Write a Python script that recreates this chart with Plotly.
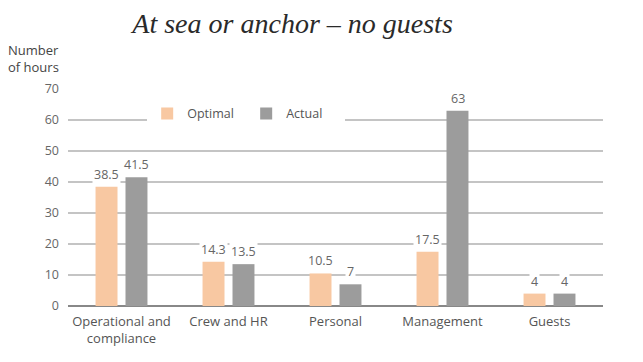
import plotly.graph_objects as go

categories = ["Operational and<br>compliance", "Crew and HR", "Personal", "Management", "Guests"]
optimal = [38.5, 14.3, 10.5, 17.5, 4]
actual = [41.5, 13.5, 7, 63, 4]
optimal_labels = ["38.5", "14.3", "10.5", "17.5", "4"]
actual_labels = ["41.5", "13.5", "7", "63", "4"]
y_ticks = [0, 10, 20, 30, 40, 50, 60, 70]

FONT = "'Open Sans', Lato, sans-serif"
C_OPT = "#F8C8A2"
C_ACT = "#9C9C9C"

fig = go.Figure()
fig.add_trace(go.Bar(x=categories, y=optimal, name="Optimal", marker_color=C_OPT,
                     marker_line_width=0))
fig.add_trace(go.Bar(x=categories, y=actual, name="Actual", marker_color=C_ACT,
                     marker_line_width=0))

for i, c in enumerate(categories):
    for val, lab, shift in ((optimal[i], optimal_labels[i], -15), (actual[i], actual_labels[i], 15)):
        fig.add_annotation(x=c, y=val, text=lab, showarrow=False, xshift=shift,
                           yanchor="bottom", yshift=2, bgcolor="white",
                           font=dict(family=FONT, size=12.5, color="#666"), borderpad=1)

fig.add_annotation(xref="paper", yref="paper", x=-0.116, y=1.05, xanchor="left", yanchor="bottom",
                   text="Number<br>of hours", showarrow=False, align="left",
                   font=dict(family=FONT, size=13, color="#444"))

fig.update_layout(
    width=643, height=362,
    margin=dict(l=68, r=40, t=89, b=56, autoexpand=False),
    plot_bgcolor="white", paper_bgcolor="white",
    title=dict(text="<i>At sea or anchor – no guests</i>", x=0.455, xanchor="center", y=0.935,
               yanchor="middle",
               font=dict(family="'Liberation Serif', 'DejaVu Serif', serif", size=28, color="#2a2a2a")),
    barmode="group", bargap=0.44, bargroupgap=0.267,
    legend=dict(orientation="h", x=0.148, xanchor="left", y=0.885, yanchor="middle",
                bgcolor="white", entrywidth=54, traceorder="normal",
                font=dict(family=FONT, size=12.5, color="#555"), itemwidth=30),
    xaxis=dict(showgrid=False, tickfont=dict(family=FONT, size=13, color="#555"),
               ticks="", showline=False, automargin=False, ticklabelstandoff=6),
    yaxis=dict(range=[0, 70], tickvals=y_ticks, showgrid=True, gridcolor="#c4c4c4", gridwidth=1.5,
               zeroline=True, zerolinecolor="#888", zerolinewidth=2, automargin=False,
               tickfont=dict(family=FONT, size=12.5, color="#666"), ticklabelstandoff=8),
    showlegend=True,
)

fig.write_html("out.html", config={"displayModeBar": False},
               post_script="document.body.style.margin='0';")
